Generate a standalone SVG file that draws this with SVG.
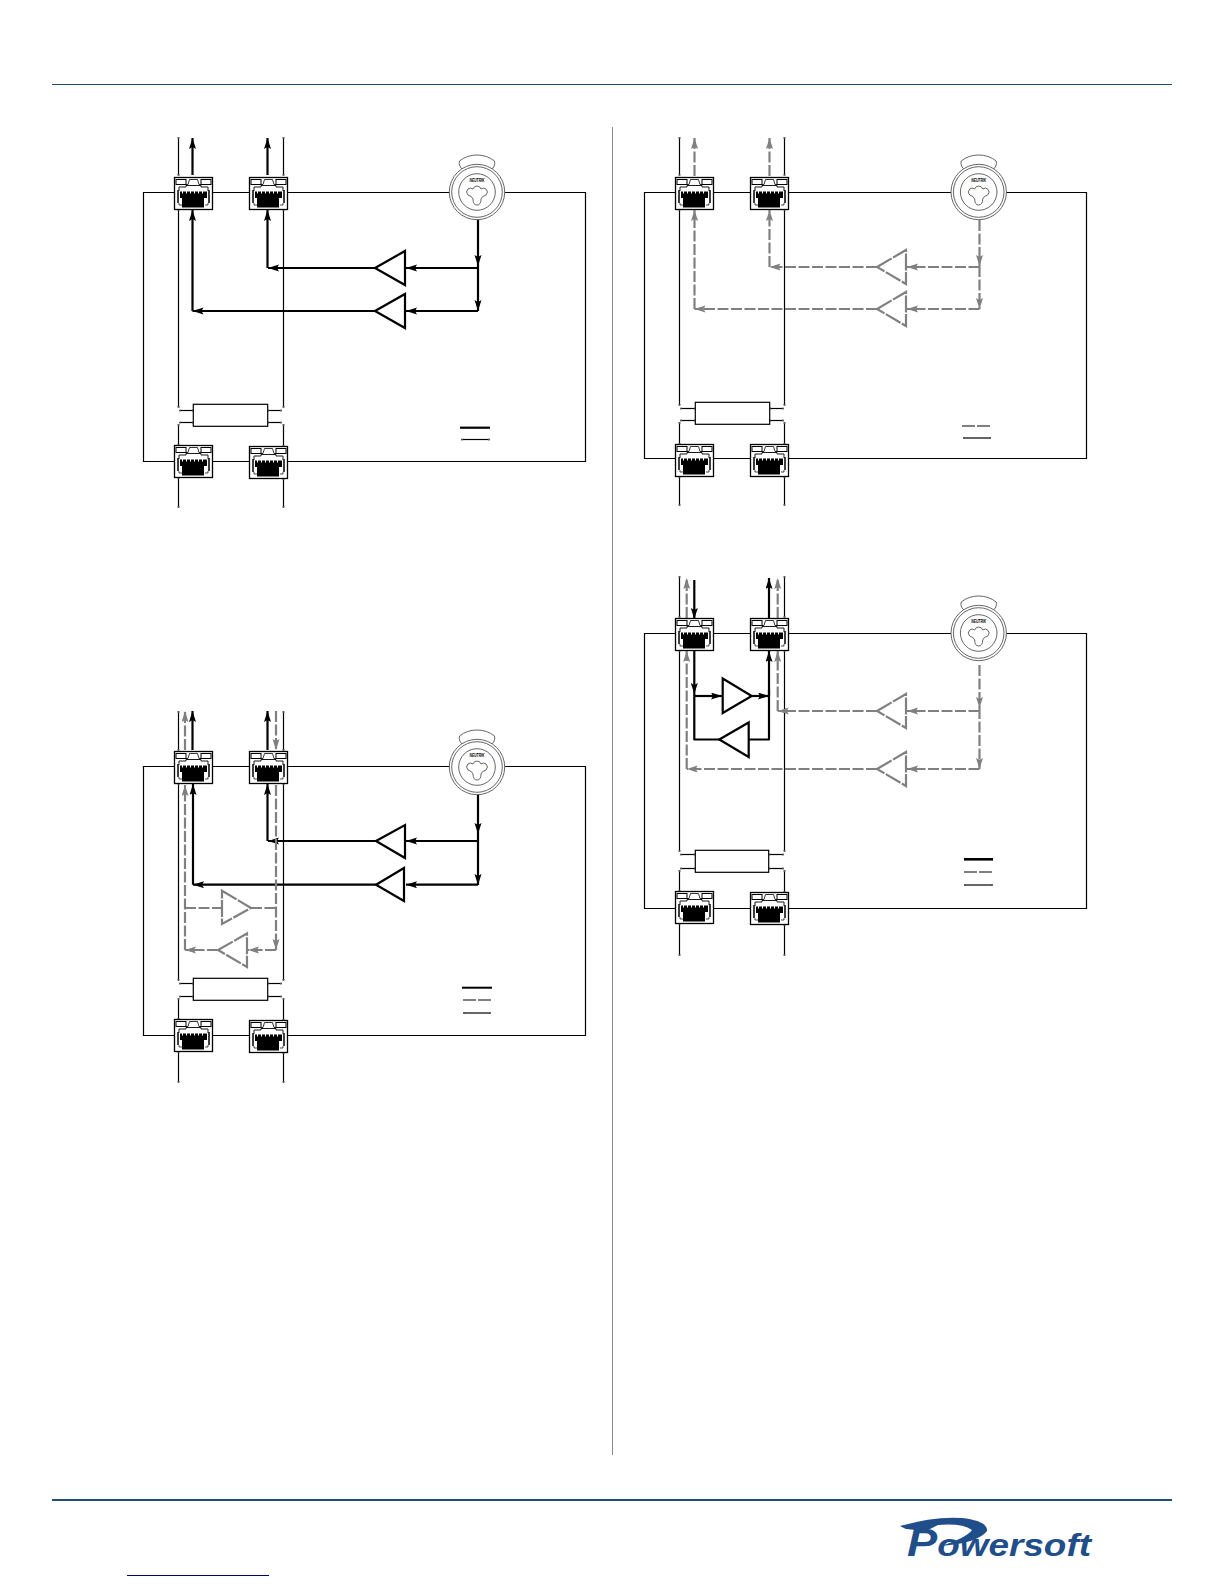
<svg xmlns="http://www.w3.org/2000/svg" width="1224" height="1584" viewBox="0 0 1224 1584">
<style>
.frame{fill:none;stroke:#000;stroke-width:1.2}
.thin{fill:none;stroke:#000;stroke-width:1.2;marker-start:url(#tiny);marker-end:url(#tiny)}
.k{fill:none;stroke:#000;stroke-width:2.2;stroke-linejoin:round}
.ka{fill:none;stroke:#000;stroke-width:2.2;marker-end:url(#ah)}
.g{fill:none;stroke:#808080;stroke-width:2.2;stroke-dasharray:11 2.5}
.ga{fill:none;stroke:#808080;stroke-width:2.2;stroke-dasharray:11 2.5;marker-end:url(#ag)}
.tk{fill:#fff;stroke:#000;stroke-width:2.2;stroke-linejoin:miter}
.tg{fill:#fff;stroke:#808080;stroke-width:2.2;stroke-dasharray:17 1.5}
.box{fill:#fff;stroke:#000;stroke-width:1.2}
.xl{fill:#fff;stroke:#555;stroke-width:.9}
.brand{font-family:"Liberation Sans",Arial,sans-serif;font-weight:700;font-style:italic}
</style>
<defs>
<marker id="ah" markerUnits="userSpaceOnUse" markerWidth="12" markerHeight="8" refX="11" refY="3.500" orient="auto"><path d="M0,0L11,3.500L0,7L2,3.500Z" fill="#000"/></marker>
<marker id="ag" markerUnits="userSpaceOnUse" markerWidth="12" markerHeight="8" refX="11" refY="3.500" orient="auto"><path d="M0,0L11,3.500L0,7L2,3.500Z" fill="#808080"/></marker>
<marker id="tiny" markerUnits="userSpaceOnUse" markerWidth="3" markerHeight="3" refX="1.500" refY="1.500" orient="auto"><circle cx="1.500" cy="1.500" r="1.100" fill="#555"/></marker>
<g id="rj45">
<rect x=".5" y=".5" width="38" height="32" fill="#fff" stroke="#000" stroke-width="1.300"/>
<rect x="2" y="2.500" width="10" height="5" fill="#fff" stroke="#000"/>
<rect x="27" y="2.500" width="10" height="5" fill="#fff" stroke="#000"/>
<path d="M12,7.500H14L15.500,2.500H23.500L25,7.500H27" fill="none" stroke="#000" stroke-width=".8"/>
<path d="M5,14V10H12V8.500H27V10H34V14" fill="none" stroke="#000" stroke-width=".9"/>
<path d="M4,13V26M35,13V26" stroke="#000" stroke-width="1.500"/>
<path d="M6,14.500H8V16.500H9V14.500H12V16.500H13V14.500H16V16.500H17V14.500H20V16.500H21V14.500H24V16.500H25V14.500H28V16.500H29V14.500H33V21H30V30.500H8V21H6Z" fill="#000"/>
<path d="M5,26V28H8M34,26V28H31" fill="none" stroke="#000" stroke-width=".7"/>
</g>
<g id="xlr">
<path class="xl" d="M-13,-21Q-19,-26 -17.500,-31Q-10,-37 0,-37Q10,-37 17.500,-31Q19,-26 13,-21Q0,-17 -13,-21Z"/>
<circle class="xl" r="27.700"/>
<circle class="xl" r="25.300"/>
<circle class="xl" r="18.300"/>
<path class="xl" d="M0,-6Q3,-6 4,-3Q7,-5 9,-3Q12,0 9,3Q5,4 4,7Q4,13 0,13Q-4,13 -4,7Q-5,4 -9,3Q-12,0 -9,-3Q-7,-5 -4,-3Q-3,-6 0,-6Z"/>
<text class="brand" x="0" y="-10.500" font-size="5.500" text-anchor="middle" textLength="15" lengthAdjust="spacingAndGlyphs" fill="#000">NEUTRIK</text>
</g>
</defs>
<rect width="1224" height="1584" fill="#fff"/>

<g id="page-rules">
<path d="M52,84.500H1172" stroke="#1f4e6b" stroke-width="1" fill="none"/>
<path d="M52,1500H1172" stroke="#1f4e79" stroke-width="2" fill="none"/>
<path d="M612.500,127V1455" stroke="#8a8a8a" stroke-width="1" fill="none"/>
<path d="M127,1575.500H269" stroke="#000080" stroke-width="1" fill="none"/>
</g>

<g id="connectors">
<!-- panel A -->
<path class="frame" d="M174,192.500H143.500V461.500H174M212,192.500H249M287,192.500H450M505,192.500H585.500V461.500H287M212,461.500H249"/>
<path class="thin" d="M178.500,138V175"/><path class="thin" d="M283.500,138V175"/>
<path class="thin" d="M178.500,210V407"/><path class="thin" d="M283.500,210V407"/>
<path class="thin" d="M180,410.500H193"/><path class="thin" d="M268,410.500H281"/>
<path class="thin" d="M180,422.500H193"/><path class="thin" d="M268,422.500H281"/>
<path class="thin" d="M178.500,425V445"/><path class="thin" d="M283.500,425V446"/>
<path class="thin" d="M178.500,478V507"/><path class="thin" d="M283.500,479V507"/>
<path class="ka" d="M192.500,175V138"/><path class="ka" d="M267.500,175V138"/>
<path class="ka" d="M478,220V266"/><path class="ka" d="M478,266V311"/>
<path class="ka" d="M478,268H406"/><path class="ka" d="M478,311H406"/>
<path class="ka" d="M375,268H268"/><path class="ka" d="M375,311H192.500"/>
<path class="ka" d="M267.500,268V210"/><path class="ka" d="M192.500,311V210"/>
<path d="M460,427.700H490" stroke="#000" stroke-width="2.200" fill="none"/>
<path class="thin" d="M462,439.500H489"/>

<!-- panel B -->
<path class="frame" d="M675,192.500H644.500V458.500H675M713,192.500H750M788,192.500H951M1006,192.500H1086.500V458.500H788M713,458.500H750"/>
<path class="thin" d="M679.500,138V175"/><path class="thin" d="M784.500,138V175"/>
<path class="thin" d="M679.500,210V405"/><path class="thin" d="M784.500,210V405"/>
<path class="thin" d="M681,408.500H695"/><path class="thin" d="M770,408.500H783"/>
<path class="thin" d="M681,420.500H695"/><path class="thin" d="M770,420.500H783"/>
<path class="thin" d="M679.500,423V444"/><path class="thin" d="M784.500,423V444"/>
<path class="thin" d="M679.500,477V505"/><path class="thin" d="M784.500,477V505"/>
<path class="ga" d="M694.500,176V138"/><path class="ga" d="M769.500,176V138"/>
<path class="ga" d="M979.500,220V266"/><path class="ga" d="M979.500,266V309"/>
<path class="ga" d="M979.500,267H907"/><path class="ga" d="M979.500,309H907"/>
<path class="ga" d="M877,267H769.500"/><path class="ga" d="M877,309H694.500"/>
<path class="ga" d="M769.500,267V210"/><path class="ga" d="M694.500,309V210"/>
<path d="M962,426H991" stroke="#808080" stroke-width="1.800" stroke-dasharray="13 2" fill="none"/>
<path class="thin" d="M964,438H990"/>

<!-- panel C -->
<path class="frame" d="M174,766.500H143.500V1035.500H174M212,766.500H249M287,766.500H450M505,766.500H585.500V1035.500H287M212,1035.500H249"/>
<path class="thin" d="M178.500,712V750"/><path class="thin" d="M283.500,712V750"/>
<path class="thin" d="M178.500,784V980"/><path class="thin" d="M283.500,784V980"/>
<path class="thin" d="M180,983.500H193"/><path class="thin" d="M268,983.500H281"/>
<path class="thin" d="M180,996.500H193"/><path class="thin" d="M268,996.500H281"/>
<path class="thin" d="M178.500,999V1019"/><path class="thin" d="M283.500,999V1020"/>
<path class="thin" d="M178.500,1052V1082"/><path class="thin" d="M283.500,1053V1082"/>
<path class="ka" d="M192.500,750V711"/><path class="ka" d="M267.500,750V711"/>
<path class="ga" d="M185,750V711"/><path class="ga" d="M276,711V750"/>
<path class="ka" d="M478,790V834"/><path class="ka" d="M478,834V885"/>
<path class="ka" d="M478,841H406"/><path class="ka" d="M478,884.700H406"/>
<path class="ka" d="M376,841H268"/><path class="ka" d="M376,884.700H193"/>
<path class="ka" d="M267.500,841V784"/><path class="ka" d="M193,884.700V784"/>
<path class="g" d="M185,908H222M251,908H276"/>
<path class="ga" d="M185,950V785"/><path class="ga" d="M276,785V950"/>
<path class="ga" d="M276,950H248"/><path class="ga" d="M218,950H185"/>
<path d="M462,987.700H492" stroke="#000" stroke-width="2" fill="none"/>
<path d="M463,1000H491" stroke="#808080" stroke-width="2" stroke-dasharray="13 2" fill="none"/>
<path class="thin" d="M464,1013H490"/>

<!-- panel D -->
<path class="frame" d="M675,633.500H644.500V908.500H675M713,633.500H750M788,633.500H951M1006,633.500H1086.500V908.500H788M713,908.500H750"/>
<path class="thin" d="M679.500,577V617"/><path class="thin" d="M784.500,577V617"/>
<path class="thin" d="M679.500,651V851"/><path class="thin" d="M784.500,651V851"/>
<path class="thin" d="M681,854.500H695"/><path class="thin" d="M769,854.500H783"/>
<path class="thin" d="M681,868.500H695"/><path class="thin" d="M769,868.500H783"/>
<path class="thin" d="M679.500,871V891"/><path class="thin" d="M784.500,871V892"/>
<path class="thin" d="M679.500,924V955"/><path class="thin" d="M784.500,925V955"/>
<path class="ka" d="M694.300,580V619"/>
<path class="ka" d="M769,618V578"/>
<path class="ga" d="M686.700,618V578"/><path class="ga" d="M777.700,618V578"/>
<path class="ka" d="M694.300,651V694"/>
<path class="k" d="M694.300,694V739.500H720"/>
<path class="ka" d="M694.300,696H722"/>
<path class="ka" d="M752,696H769"/>
<path class="k" d="M749,739.500H769V690"/>
<path class="ka" d="M769,696V651"/>
<path class="ga" d="M686.700,769V651"/><path class="ga" d="M877,769H686.700"/>
<path class="ga" d="M777.700,711V651"/><path class="ga" d="M877,711H777.700"/>
<path class="ga" d="M979.500,665V708"/><path class="ga" d="M979.500,708V769"/>
<path class="ga" d="M979.500,711H907"/><path class="ga" d="M979.500,769H907"/>
<path d="M964,859.300H993" stroke="#000" stroke-width="2.600" fill="none"/>
<path d="M964,872H992" stroke="#808080" stroke-width="2.200" stroke-dasharray="13 2" fill="none"/>
<path class="thin" d="M965,885H992"/>
</g>

<g id="panel-a">
<g id="a-port1"><use href="#rj45" x="174" y="177"/></g>
<g id="a-port2"><use href="#rj45" x="249" y="177"/></g>
<g id="a-port3"><use href="#rj45" x="174" y="445"/></g>
<g id="a-port4"><use href="#rj45" x="249" y="446"/></g>
<g id="a-xlr"><use href="#xlr" x="477" y="192"/></g>
<g id="a-box"><rect class="box" x="193.300" y="404.300" width="74.400" height="22"/></g>
<g id="a-amp1"><path class="tk" d="M375,268L405,251V285Z"/></g>
<g id="a-amp2"><path class="tk" d="M375,311L405,294V328Z"/></g>
</g>

<g id="panel-b">
<g id="b-port1"><use href="#rj45" x="675" y="177"/></g>
<g id="b-port2"><use href="#rj45" x="750" y="177"/></g>
<g id="b-port3"><use href="#rj45" x="675" y="444"/></g>
<g id="b-port4"><use href="#rj45" x="750" y="444"/></g>
<g id="b-xlr"><use href="#xlr" x="978.700" y="192"/></g>
<g id="b-box"><rect class="box" x="695.300" y="402.300" width="74.400" height="22"/></g>
<g id="b-amp1"><path class="tg" d="M877,267L906,250V284Z"/></g>
<g id="b-amp2"><path class="tg" d="M877,309L906,292V326Z"/></g>
</g>

<g id="panel-c">
<g id="c-port1"><use href="#rj45" x="174" y="751"/></g>
<g id="c-port2"><use href="#rj45" x="249" y="751"/></g>
<g id="c-port3"><use href="#rj45" x="174" y="1019"/></g>
<g id="c-port4"><use href="#rj45" x="249" y="1020"/></g>
<g id="c-xlr"><use href="#xlr" x="477" y="767"/></g>
<g id="c-box"><rect class="box" x="193.300" y="978.300" width="74.400" height="22"/></g>
<g id="c-amp1"><path class="tk" d="M376,841L405,825V858Z"/></g>
<g id="c-amp2"><path class="tk" d="M376,884.700L404,868V901Z"/></g>
<g id="c-amp3"><path class="tg" d="M222,890.700L251,908L222,924Z"/></g>
<g id="c-amp4"><path class="tg" d="M218,950L247,933.500V967Z"/></g>
</g>

<g id="panel-d">
<g id="d-port1"><use href="#rj45" x="675" y="618"/></g>
<g id="d-port2"><use href="#rj45" x="750" y="618"/></g>
<g id="d-port3"><use href="#rj45" x="675" y="891"/></g>
<g id="d-port4"><use href="#rj45" x="750" y="892"/></g>
<g id="d-xlr"><use href="#xlr" x="978.700" y="633"/></g>
<g id="d-box"><rect class="box" x="695.300" y="850.300" width="73.400" height="22"/></g>
<g id="d-amp1"><path class="tk" d="M722.700,678.500L751.700,696L722.700,713Z"/></g>
<g id="d-amp2"><path class="tk" d="M719.300,739.500L748.700,722.500V757Z"/></g>
<g id="d-amp3"><path class="tg" d="M877,711L906,694V728Z"/></g>
<g id="d-amp4"><path class="tg" d="M877,769L906,752V786Z"/></g>
</g>

<g id="logo">
<path d="M900,1526Q935,1516 962,1518Q988,1521 987,1531Q978,1543 941,1546Q966,1538 972,1530Q962,1523 938,1525L926,1531L906,1529Z" fill="#1f4e8a"/>
<text class="brand" x="907" y="1556" font-size="31" fill="#1f4e8a" textLength="184" lengthAdjust="spacingAndGlyphs"><tspan font-size="38">P</tspan>owersoft</text>
</g>
</svg>
